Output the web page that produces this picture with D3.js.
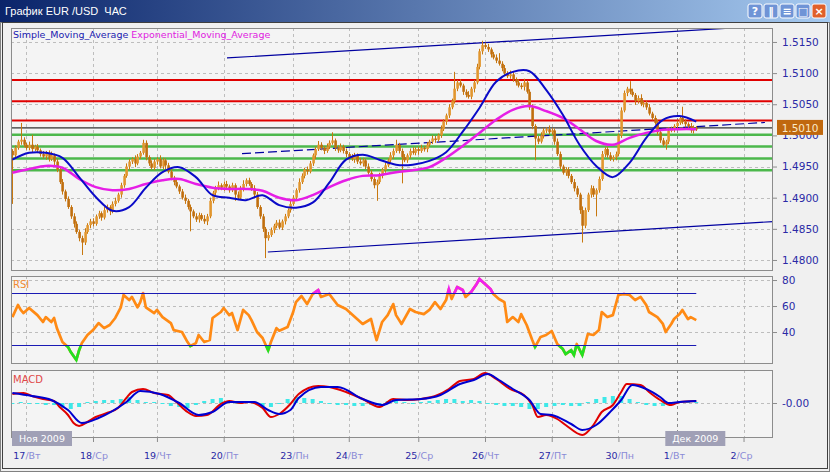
<!DOCTYPE html>
<html><head><meta charset="utf-8">
<script src="https://cdn.jsdelivr.net/npm/d3@7"></script>
<style>body{margin:0;background:#f0f0f0;}svg{display:block}</style>
</head><body><svg id="c" width="830" height="472"></svg>
<script>
// ---------------- DATA ----------------
const title = "График EUR /USD\u00a0\u00a0ЧАС";
const firstOpen = 1.4975;
const closes = [
1.4968,1.4980,1.4990,1.4993,1.4985,1.4980,1.4985,1.4978,1.4982,1.4976,
1.4970,1.4966,1.4972,1.4962,1.4968,1.4958,1.4945,1.4925,1.4910,1.4898,
1.4885,1.4870,1.4858,1.4845,1.4835,1.4828,1.4845,1.4856,1.4862,1.4858,
1.4870,1.4875,1.4868,1.4880,1.4885,1.4878,1.4890,1.4895,1.4905,1.4920,
1.4935,1.4950,1.4958,1.4962,1.4955,1.4966,1.4972,1.4988,1.4965,1.4955,
1.4948,1.4958,1.4962,1.4950,1.4960,1.4952,1.4942,1.4932,1.4925,1.4918,
1.4910,1.4900,1.4895,1.4885,1.4878,1.4870,1.4865,1.4872,1.4866,1.4862,
1.4870,1.4895,1.4908,1.4915,1.4920,1.4916,1.4922,1.4918,1.4912,1.4920,
1.4905,1.4900,1.4915,1.4922,1.4928,1.4922,1.4915,1.4905,1.4885,1.4870,
1.4850,1.4835,1.4840,1.4848,1.4855,1.4860,1.4852,1.4862,1.4870,1.4880,
1.4890,1.4900,1.4912,1.4925,1.4935,1.4945,1.4942,1.4955,1.4968,1.4978,
1.4985,1.4980,1.4975,1.4982,1.4988,1.4992,1.4980,1.4976,1.4982,1.4975,
1.4970,1.4965,1.4962,1.4968,1.4958,1.4955,1.4960,1.4950,1.4940,1.4930,
1.4920,1.4925,1.4935,1.4945,1.4952,1.4960,1.4968,1.4975,1.4985,1.4975,
1.4965,1.4960,1.4968,1.4975,1.4972,1.4978,1.4975,1.4980,1.4978,1.4985,
1.4990,1.4995,1.4993,1.5000,1.5010,1.5022,1.5032,1.5045,1.5055,1.5075,
1.5085,1.5080,1.5070,1.5065,1.5062,1.5075,1.5085,1.5110,1.5135,1.5145,
1.5142,1.5138,1.5130,1.5125,1.5120,1.5115,1.5108,1.5100,1.5095,1.5098,
1.5090,1.5085,1.5080,1.5078,1.5085,1.5070,1.5045,1.5015,1.4995,1.4990,
1.5000,1.5008,1.5010,1.5005,1.5008,1.4990,1.4970,1.4950,1.4940,1.4945,
1.4935,1.4925,1.4915,1.4905,1.4880,1.4855,1.4880,1.4905,1.4915,1.4905,
1.4912,1.4930,1.4970,1.4978,1.4968,1.4962,1.4965,1.4970,1.5000,1.5040,
1.5068,1.5075,1.5070,1.5065,1.5055,1.5060,1.5050,1.5052,1.5045,1.5035,
1.5028,1.5020,1.5005,1.4992,1.4985,1.4990,1.5008,1.5010,1.5015,1.5020,
1.5028,1.5022,1.5018,1.5015,1.5008,1.5012,1.5010];
// wick lengths beyond the candle body, in pips (one per bar)
const wickUp = [
3,4,3,27,4,3,5,16,3,4,
3,5,3,4,6,3,4,3,5,3,
4,3,5,4,3,4,6,3,4,5,
3,4,3,5,4,3,4,5,3,4,
3,5,4,3,6,4,3,5,4,3,
5,4,3,6,4,3,4,5,3,4,
3,4,5,3,4,3,5,4,3,6,
4,5,3,4,6,3,4,5,3,4,
3,5,4,6,3,4,3,5,4,3,
4,3,5,4,3,4,5,3,4,3,
5,4,3,6,4,3,5,4,3,4,
6,4,3,5,4,13,3,4,5,3,
4,3,5,4,3,6,4,3,5,4,
3,4,5,3,4,3,5,4,8,3,
4,5,3,4,6,3,4,5,3,4,
3,5,4,3,6,4,3,5,4,27,
4,5,3,4,6,3,4,5,4,7,
4,5,3,4,5,12,4,5,3,6,
4,3,5,4,6,3,4,5,3,4,
5,4,3,6,4,3,5,4,3,4,
4,3,5,4,3,6,4,3,5,4,
3,4,5,3,4,5,3,4,3,5,
4,3,12,5,3,4,6,3,4,5,
3,4,5,3,4,3,5,4,3,4,
3,18,4,3,5,4,3];
const wickDn = [
78,4,3,5,4,3,4,5,3,4,
4,3,5,4,3,6,4,3,5,4,
3,4,6,3,5,20,4,3,5,4,
3,4,5,3,4,6,3,4,3,5,
4,3,5,4,6,3,4,3,5,4,
3,4,5,3,4,6,3,4,5,3,
4,3,5,4,32,3,4,5,3,4,
6,3,4,5,3,4,5,3,4,3,
10,4,3,5,4,3,4,6,3,4,
5,32,4,3,5,4,3,4,5,3,
4,3,5,4,3,4,5,3,4,6,
3,4,5,3,4,3,5,4,3,4,
5,4,3,6,4,3,5,4,3,4,
5,25,3,4,5,3,4,6,3,4,
42,3,4,5,3,4,6,3,4,5,
3,4,5,3,4,3,5,4,3,4,
4,3,5,4,3,4,6,3,4,5,
3,4,5,3,4,3,5,4,3,4,
4,5,3,4,6,3,4,5,35,4,
3,5,4,3,4,5,3,4,3,5,
4,3,5,4,6,27,4,3,5,4,
35,4,3,5,4,3,4,5,3,4,
3,5,4,3,6,4,3,5,4,3,
4,3,5,4,3,8,4,3,5,4,
3,4,5,3,4,5,3];

const maStep = 6;
const smaValues = [1.4961,1.4972,1.4972,1.4964,1.4933,1.4901,1.4879,1.4885,1.4916,1.4941,
1.4949,1.4933,1.4904,1.4900,1.4896,1.4904,1.4888,1.4884,1.4892,1.4924,
1.4961,1.4969,1.4961,1.4953,1.4953,1.4959,1.4973,1.5006,1.5044,1.5086,
1.5102,1.5103,1.5073,1.5033,1.4985,1.4951,1.4933,1.4956,1.4996,1.5025,1.5031,1.5022];
const emaValues = [1.4940,1.4946,1.4951,1.4948,1.4930,1.4917,1.4912,1.4914,1.4922,1.4928,
1.4930,1.4922,1.4916,1.4914,1.4914,1.4911,1.4900,1.4896,1.4904,1.4917,
1.4928,1.4935,1.4936,1.4941,1.4944,1.4949,1.4964,1.4983,1.5004,1.5025,
1.5041,1.5047,1.5039,1.5028,1.5010,1.4991,1.4985,1.4996,1.5004,1.5009,1.5010,1.5010];

const resistLevels = [1.5089,1.5055,1.5024];
const supportLevels = [1.5001,1.4982,1.4963,1.4944];
const lastPrice = 1.5012;
const lastLabel = "1.5010";
// channel lines: [barStart, priceStart, barEnd, priceEnd]
const channelTop = [77.2,1.51243,267.8,1.51748];
const channelMid = [82.6,1.49706,270.7,1.50207];
const channelBot = [91.9,1.48128,273.6,1.48616];

const rsiBars = [0,2,3,4,6,9,11,12,14,15,16,18,20,21,23,24,25,27,29,31,33,35,37,39,40,42,43,45,46,47,48,51,52,54,57,58,61,63,64,66,67,69,71,72,75,76,78,79,81,83,85,86,88,90,92,93,95,
96,99,101,102,104,106,108,110,111,114,117,120,124,126,129,130,131,133,135,137,138,140,143,145,148,150,152,154,156,157,158,160,162,163,165,167,168,170,172,173,175,177,178,180,182,183,185,187,188,190,192,194,196,198,199,201,202,203,205,207,209,211,212,214,216,218,220,222,224,226,228,229,232,234,235,237,238,240,241,243,244,246];
const rsiValues = [51.5,60.8,57,54.6,58.5,53,47.7,51.5,47.7,50.8,43,32.3,28.5,24.6,18.5,26,31.5,37.7,41.5,46.9,43,45.4,50.8,59,68.5,64.6,67,59,63,70,59,54.6,57,51.5,46.9,41.5,40,32.3,29.2,31.5,37.7,32.3,33.8,50.8,55.4,58.5,53,54.6,41.5,57,53,49.2,40,35.4,26,32.3,43,
41,43.8,55.4,63,67.7,61.5,69.2,72.3,67,69.2,60.8,57.7,50,46.2,50,41.5,33.8,47.7,53,61.5,53,46.2,57.7,55.4,53.8,57,63,57.7,64.6,73,65.4,74.6,72.3,67,70.8,77,80.8,77,73,69.2,65.4,63,47.7,51.5,47.7,53.8,45.4,33.8,28.5,36.2,37.7,40.8,30.8,26.9,23,26,22.3,30.8,22.3,38.5,37.7,41.5,55.4,51.5,53,68.5,69.2,68.5,64.6,67,60.8,55.4,51.5,46.2,40,46.2,50,53.8,57,50,51.5,49.2];
const rsiTicks = [40,60,80];
const rsiLevels = [30,70];

const macdBars = [0,4,7,11,15,17,20,22,24,27,30,34,38,41,43,47,51,56,59,63,66,70,75,78,82,85,90,93,96,100,103,110,114,120,126,132,137,142,147,153,157,161,166,170,174,179,184,187,189,192,196,199,205,209,212,216,219,221,226,229,233,237,240,246];
const macdValues = [0.0009,0.0010,0.0007,0.0004,0.0002,-0.0004,-0.0012,-0.0020,-0.0023,-0.0019,-0.0014,-0.0010,-0.0005,0.0005,0.0011,0.0014,0.0010,0.0008,0.0001,-0.0009,-0.0013,-0.0012,-0.0001,0.0002,0.0000,0.0001,-0.0005,-0.0014,-0.0011,-0.0001,0.0009,0.0017,0.0016,0.0011,0.0004,-0.0004,0.0004,0.0003,0.0004,0.0008,0.0014,0.0022,0.0024,0.0030,0.0024,0.0014,0.0008,-0.0002,-0.0014,-0.0012,-0.0016,-0.0022,-0.0032,-0.0022,-0.0009,-0.0002,0.0011,0.0019,0.0018,0.0011,0.0003,-0.0002,0.0001,0.0002];
const signalBars = [0,7,14,20,25,31,41,46,53,60,67,72,78,87,92,96,100,103,111,117,126,133,138,147,154,161,166,171,175,180,186,190,194,201,205,210,215,219,223,228,233,236,240,246];
const signalValues = [0.0010,0.0007,0.0003,-0.0007,-0.0020,-0.0015,0.0001,0.0012,0.0009,0.0000,-0.0012,-0.0009,0.0001,0.0001,-0.0007,-0.0011,-0.0007,0.0005,0.0016,0.0016,0.0004,-0.0002,0.0003,0.0004,0.0008,0.0019,0.0023,0.0029,0.0023,0.0014,0.0003,-0.0011,-0.0012,-0.0021,-0.0027,-0.0022,-0.0009,0.0003,0.0018,0.0014,0.0006,0.0000,0.0001,0.0002];
const histStep = 3;
const histValues = [0.0000,0.0001,-0.0001,-0.0001,-0.0002,-0.0002,-0.0005,-0.0006,-0.0004,0.0001,
0.0002,0.0003,0.0003,0.0004,0.0006,0.0003,0.0001,0.0001,-0.0001,-0.0003,
-0.0004,-0.0005,-0.0002,0.0002,0.0004,0.0005,0.0002,-0.0001,0.0001,-0.0001,
-0.0003,-0.0004,-0.0001,0.0004,0.0006,0.0005,0.0004,0.0002,-0.0001,-0.0002,
-0.0002,-0.0003,-0.0003,-0.0002,-0.0002,0.0002,0.0002,0.0001,0.0000,0.0001,
0.0002,0.0003,0.0004,0.0004,0.0002,0.0003,0.0002,-0.0001,-0.0002,-0.0003,
-0.0003,-0.0004,-0.0006,-0.0006,-0.0004,-0.0003,-0.0002,-0.0003,-0.0003,0.0001,
0.0004,0.0006,0.0007,0.0007,0.0004,0.0001,-0.0002,-0.0003,-0.0003,-0.0001,
0.0001,0.0001,0.0001];

const priceTicks = [1.4800,1.4850,1.4900,1.4950,1.5000,1.5050,1.5100,1.5150];
const dayBars = [5,29,52,76,101,121,146,170,194,218,239,263];
const dayNums = ["17","18","19","20","23","24","25","26","27","30","1","2"];
const dayNames = ["Вт","Ср","Чт","Пт","Пн","Вт","Ср","Чт","Пт","Пн","Вт","Ср"];
const monthLabels = [{bar:-0.5,text:"Ноя 2009"},{bar:234.5,text:"Дек 2009"}];
const monthBreakBar = 239;

// ---------------- LAYOUT ----------------
const W=830,H=472, L=11, R=773;
const P = {main:[28,271], rsi:[276,364], macd:[370,438]};
const FONT = "'DejaVu Sans', Verdana, sans-serif";
const svg = d3.select('#c');
const defs = svg.append('defs');

svg.append('rect').attr('width',W).attr('height',H).attr('fill','#f0f0f0');
const g0 = defs.append('linearGradient').attr('id','tb');
g0.append('stop').attr('offset','0%').attr('stop-color','#0a246a');
g0.append('stop').attr('offset','100%').attr('stop-color','#a6caf0');
svg.append('rect').attr('x',0).attr('y',0).attr('width',W).attr('height',22).attr('fill','url(#tb)');
svg.append('text').attr('x',5).attr('y',15).attr('fill','#fff')
  .style('font-family',"'Liberation Sans',Arial,sans-serif").style('font-size','11px').text(title);
const btnX=[748,764,780,796,812];
const btnGlyph=['?','‖','≡','□','×'];
btnX.forEach((bx,k)=>{
  svg.append('rect').attr('x',bx).attr('y',4).attr('width',14).attr('height',14).attr('rx',2)
    .attr('fill', k===4?'#e0602a':'#6f94d6').attr('stroke','#fff').attr('stroke-width',1);
  svg.append('text').attr('x',bx+7).attr('y',15).attr('text-anchor','middle').attr('fill','#fff')
    .style('font-family',FONT).style('font-size','11px').style('font-weight','bold').text(btnGlyph[k]);
});
svg.append('rect').attr('x',0.5).attr('y',22.5).attr('width',W-1).attr('height',H-23).attr('fill','none').attr('stroke','#808080');
svg.append('rect').attr('x',2.5).attr('y',22.5).attr('width',W-5).attr('height',H-26).attr('fill','none').attr('stroke','#404040');

const x = d3.scaleLinear().domain([-0.5,273.6]).range([L,R]);
const y = d3.scaleLinear().domain([1.47823,1.51724]).range([P.main[1],P.main[0]]);
const yr = d3.scaleLinear().domain([15.4,83.1]).range([P.rsi[1],P.rsi[0]]);
const ym = d3.scaleLinear().domain([-0.0035,0.0033]).range([P.macd[1],P.macd[0]]);

Object.entries(P).forEach(([k,[t,b]])=>{
  svg.append('rect').attr('x',L).attr('y',t).attr('width',R-L).attr('height',b-t).attr('fill','#f4f4f4');
  defs.append('clipPath').attr('id','clip-'+k).append('rect').attr('x',L).attr('y',t).attr('width',R-L).attr('height',b-t);
});

const grid = svg.append('g').attr('stroke','#bdbdbd').attr('stroke-dasharray','3,3').attr('stroke-width',1);
Object.values(P).forEach(([t,b])=>{
  dayBars.forEach(d=>{
    const xx=Math.round(x(d))+0.5;
    grid.append('line').attr('x1',xx).attr('x2',xx).attr('y1',t).attr('y2',b)
      .attr('stroke', d===monthBreakBar?'#8a8a8a':'#bdbdbd');
  });
});
priceTicks.forEach(p=>{const yy=Math.round(y(p))+0.5;grid.append('line').attr('x1',L).attr('x2',R).attr('y1',yy).attr('y2',yy);});
rsiTicks.forEach(v=>{const yy=Math.round(yr(v))+0.5;grid.append('line').attr('x1',L).attr('x2',R).attr('y1',yy).attr('y2',yy);});
{const yy=Math.round(ym(0))+0.5;grid.append('line').attr('x1',L).attr('x2',R).attr('y1',yy).attr('y2',yy);}

// ---------- main panel ----------
const gm = svg.append('g').attr('clip-path','url(#clip-main)');
resistLevels.forEach(p=>gm.append('line').attr('x1',L).attr('x2',R).attr('y1',y(p)).attr('y2',y(p)).attr('stroke','#e00000').attr('stroke-width',2));
gm.append('line').attr('x1',L).attr('x2',R).attr('y1',y(lastPrice)).attr('y2',y(lastPrice)).attr('stroke','#000').attr('stroke-width',1);
supportLevels.forEach(p=>gm.append('line').attr('x1',L).attr('x2',R).attr('y1',y(p)).attr('y2',y(p)).attr('stroke','#4cb84c').attr('stroke-width',2.5));
[[channelTop,null],[channelMid,'9,4'],[channelBot,null]].forEach(([c,dash])=>{
  gm.append('line').attr('x1',x(c[0])).attr('y1',y(c[1])).attr('x2',x(c[2])).attr('y2',y(c[3]))
    .attr('stroke','#0000a0').attr('stroke-width',1.2).attr('stroke-dasharray',dash);
});
const bars = closes.map((c,i)=>{const o=i?closes[i-1]:firstOpen;
  return {i,o,c,h:Math.max(o,c)+wickUp[i]*1e-4,l:Math.min(o,c)-wickDn[i]*1e-4};});
const cg = gm.append('g');
cg.selectAll('line').data(bars).join('line')
  .attr('x1',d=>Math.round(x(d.i))+0.5).attr('x2',d=>Math.round(x(d.i))+0.5)
  .attr('y1',d=>y(d.h)).attr('y2',d=>y(d.l)).attr('stroke','#c8780f').attr('stroke-width',1);
cg.selectAll('rect').data(bars).join('rect')
  .attr('x',d=>Math.round(x(d.i))-0.7).attr('width',2.6)
  .attr('y',d=>y(Math.max(d.o,d.c))).attr('height',d=>Math.max(1.5,Math.abs(y(d.o)-y(d.c))))
  .attr('fill',d=>d.c>=d.o?'#e2962e':'#c06e0e');
const maLine = d3.line().x((d,k)=>x(k*maStep)).y(d=>y(d)).curve(d3.curveCatmullRom.alpha(0.5));
gm.append('path').attr('d',maLine(emaValues)).attr('fill','none').attr('stroke','#e61ee6').attr('stroke-width',2.5);
gm.append('path').attr('d',maLine(smaValues)).attr('fill','none').attr('stroke','#0a0ac8').attr('stroke-width',2);
const lg = svg.append('text').attr('x',13).attr('y',38).style('font-family',FONT).style('font-size','9.5px');
lg.append('tspan').attr('fill','#1a1ab0').text('Simple_Moving_Average ');
lg.append('tspan').attr('fill','#e020e0').text('Exponential_Moving_Average');

// ---------- RSI panel ----------
const gr = svg.append('g').attr('clip-path','url(#clip-rsi)');
const rsiPts = rsiBars.map((b,k)=>[b,rsiValues[k]]);
const rl = d3.line().x(d=>x(d[0])).y(d=>yr(d[1]));
defs.append('clipPath').attr('id','rsi-hi').append('rect').attr('x',L).attr('y',P.rsi[0]).attr('width',R-L).attr('height',yr(70)-P.rsi[0]);
defs.append('clipPath').attr('id','rsi-lo').append('rect').attr('x',L).attr('y',yr(30)).attr('width',R-L).attr('height',P.rsi[1]-yr(30));
gr.append('path').attr('d',rl(rsiPts)).attr('fill','none').attr('stroke','#ff8a14').attr('stroke-width',2.7).attr('stroke-linejoin','round');
gr.append('path').attr('d',rl(rsiPts)).attr('fill','none').attr('stroke','#f020f0').attr('stroke-width',2.7).attr('clip-path','url(#rsi-hi)');
gr.append('path').attr('d',rl(rsiPts)).attr('fill','none').attr('stroke','#22e022').attr('stroke-width',2.7).attr('clip-path','url(#rsi-lo)');
rsiLevels.forEach(v=>gr.append('line').attr('x1',L).attr('x2',x(rsiBars[rsiBars.length-1])).attr('y1',Math.round(yr(v))+0.5).attr('y2',Math.round(yr(v))+0.5).attr('stroke','#1a1ab4').attr('stroke-width',1.2));
svg.append('text').attr('x',13).attr('y',288).attr('fill','#f08a30').style('font-family',FONT).style('font-size','10px').text('RSI');

// ---------- MACD panel ----------
const gc = svg.append('g').attr('clip-path','url(#clip-macd)');
gc.selectAll('rect').data(histValues).join('rect')
  .attr('x',(d,k)=>x(k*histStep)-2).attr('width',4)
  .attr('y',d=>Math.min(ym(0),ym(d))).attr('height',d=>Math.max(1,Math.abs(ym(d)-ym(0))))
  .attr('fill','#3ee8e8');
const ml = d3.line().x(d=>x(d[0])).y(d=>ym(d[1])).curve(d3.curveMonotoneX);
gc.append('path').attr('d',ml(macdBars.map((b,k)=>[b,macdValues[k]]))).attr('fill','none').attr('stroke','#e00000').attr('stroke-width',2);
gc.append('path').attr('d',ml(signalBars.map((b,k)=>[b,signalValues[k]]))).attr('fill','none').attr('stroke','#0000d0').attr('stroke-width',2);
svg.append('text').attr('x',13).attr('y',383).attr('fill','#e04848').style('font-family',FONT).style('font-size','10px').text('MACD');

Object.values(P).forEach(([t,b])=>svg.append('rect').attr('x',L+0.5).attr('y',t+0.5).attr('width',R-L-1).attr('height',b-t-1).attr('fill','none').attr('stroke','#8c8c8c'));

function styleAxis(g){g.select('.domain').remove();g.selectAll('.tick line').attr('stroke','#8c8c8c');
  g.selectAll('text').attr('fill','#2a2aa6').style('font-family',FONT).style('font-size','10.5px');}
svg.append('g').attr('transform',`translate(${R},0)`)
  .call(d3.axisRight(y).tickValues(priceTicks).tickSize(4).tickPadding(5).tickFormat(d3.format('.4f'))).call(styleAxis);
svg.append('g').attr('transform',`translate(${R},0)`)
  .call(d3.axisRight(yr).tickValues(rsiTicks).tickSize(4).tickPadding(5).tickFormat(d3.format('d'))).call(styleAxis);
svg.append('g').attr('transform',`translate(${R},0)`)
  .call(d3.axisRight(ym).tickValues([0]).tickSize(4).tickPadding(5).tickFormat(()=> '-0.00')).call(styleAxis);

const ly=y(lastPrice);
svg.append('rect').attr('x',777).attr('y',ly-8).attr('width',46).attr('height',15).attr('fill','#c0680e');
svg.append('text').attr('x',800).attr('y',ly+4).attr('text-anchor','middle').attr('fill','#fbe9c8')
  .style('font-family',FONT).style('font-size','10.5px').text(lastLabel);

const bx = svg.append('g').attr('transform',`translate(0,${P.macd[1]})`)
  .call(d3.axisBottom(x).tickValues(dayBars).tickSize(4).tickFormat(''));
bx.select('.domain').remove(); bx.selectAll('.tick line').attr('stroke','#8c8c8c');
dayBars.forEach((d,k)=>{
  const t = svg.append('text').attr('x',x(d)-13).attr('y',459).style('font-family',FONT).style('font-size','9.5px');
  t.append('tspan').attr('fill','#2a2aa6').text(dayNums[k]);
  t.append('tspan').attr('fill','#8a8ad6').text('/'+dayNames[k]);
});
monthLabels.forEach(m=>{
  const mx = x(m.bar)+1;
  svg.append('rect').attr('x',mx).attr('y',431).attr('width',60).attr('height',15).attr('fill','#a0a0b6');
  svg.append('text').attr('x',mx+30).attr('y',442).attr('text-anchor','middle').attr('fill','#fff')
    .style('font-family',FONT).style('font-size','9.5px').text(m.text);
});
</script></body></html>
